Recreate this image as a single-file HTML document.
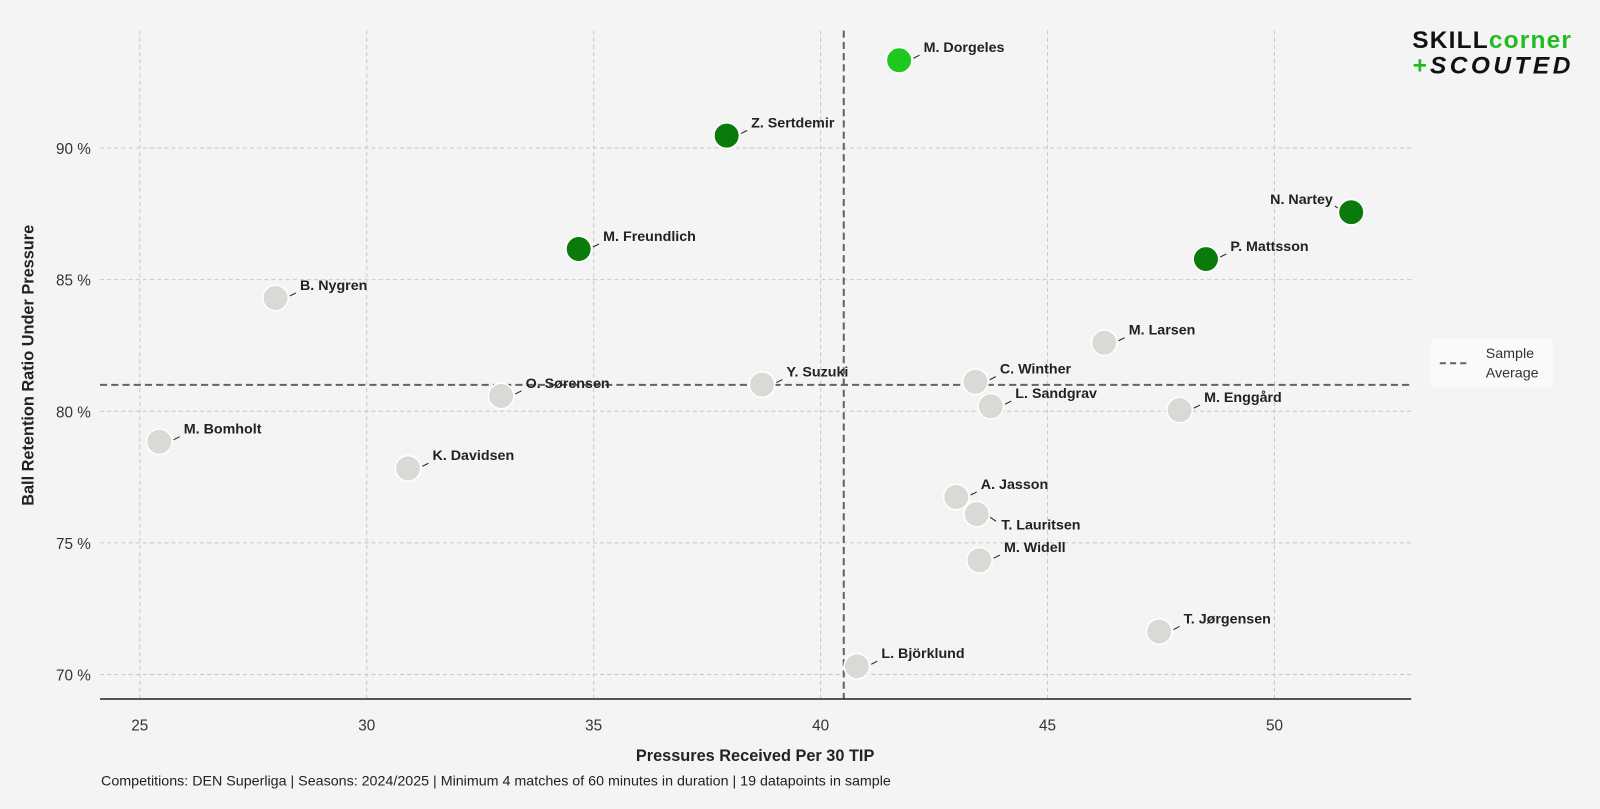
<!DOCTYPE html>
<html><head><meta charset="utf-8"><style>
body{margin:0;background:#f4f4f4;font-family:"Liberation Sans",sans-serif}
svg{display:block}
</style></head><body>
<svg width="1600" height="809" viewBox="0 0 1600 809">
<rect width="1600" height="809" fill="#f4f4f4"/>
<g transform="scale(1.0204)">
<g id="grid"></g>
<g id="avg"></g>
<g id="pts"></g>
<g id="axes"></g>
<text x="740" y="746" text-anchor="middle" font-size="16" font-weight="bold" fill="#222">Pressures Received Per 30 TIP</text>
<text transform="translate(33,358) rotate(-90)" text-anchor="middle" font-size="16" font-weight="bold" fill="#222">Ball Retention Ratio Under Pressure</text>
<text x="99" y="770" font-size="14" fill="#222">Competitions: DEN Superliga | Seasons: 2024/2025 | Minimum 4 matches of 60 minutes in duration | 19 datapoints in sample</text>
<g>
<rect x="1402" y="332" width="120" height="48" fill="#fafafa" rx="3"/>
<line x1="1411" y1="356" x2="1440" y2="356" stroke="#5a6a5a" stroke-width="2" stroke-dasharray="6,4"/>
<text x="1456" y="351" font-size="14" fill="#333">Sample</text>
<text x="1456" y="370" font-size="14" fill="#333">Average</text>
</g>
<g>
<text x="1384" y="47" font-size="24" font-weight="900" fill="#111" letter-spacing="-1.5" textLength="154">SKILL<tspan fill="#22bb22">corner</tspan></text>
<text x="1384" y="72" font-size="24" font-weight="900" font-style="italic" fill="#111" letter-spacing="-1" textLength="154"><tspan fill="#22bb22">+</tspan>SCOUTED</text>
</g>
</g>
</svg>
<script>
const names=["M. Dorgeles","Z. Sertdemir","M. Freundlich","N. Nartey","P. Mattsson","B. Nygren","M. Larsen","C. Winther","Y. Suzuki","O. Sørensen","L. Sandgrav","M. Enggård","M. Bomholt","K. Davidsen","A. Jasson","T. Lauritsen","M. Widell","T. Jørgensen","L. Björklund"];
const pressures=[41.73,37.93,34.67,51.69,48.49,27.99,46.25,43.41,38.71,32.96,43.75,47.91,25.43,30.91,42.99,43.44,43.50,47.46,40.80];
const retention=[93.33,90.47,86.16,87.56,85.78,84.30,82.60,81.12,81.01,80.58,80.19,80.04,78.84,77.83,76.74,76.09,74.34,71.63,70.31];
const groups=["top","high","high","high","high","base","base","base","base","base","base","base","base","base","base","base","base","base","base"];
const xTicks=[25,30,35,40,45,50];
const yTicks=[70,75,80,85,90];
const avgX=40.51, avgY=81.0;
const X=v=>137+(v-25)*44.48;
const Y=v=>145+(90-v)*25.8;
const NS="http://www.w3.org/2000/svg";
function mk(t,a,p){const e=document.createElementNS(NS,t);for(const k in a)e.setAttribute(k,a[k]);p.appendChild(e);return e;}
const grid=document.getElementById('grid'),axes=document.getElementById('axes'),pts=document.getElementById('pts'),avg=document.getElementById('avg');
xTicks.forEach(t=>{
 const l=mk('line',{x1:X(t),x2:X(t),y1:30,y2:685,stroke:'#c8c8c8','stroke-dasharray':'4,3'},grid);
 
 
 const tx=mk('text',{x:X(t),y:716,'text-anchor':'middle','font-size':15,fill:'#333'},axes);tx.textContent=t;
 
 
});
yTicks.forEach(t=>{
 const l=mk('line',{x1:98,x2:1383,y1:Y(t),y2:Y(t),stroke:'#c8c8c8','stroke-dasharray':'4,3'},grid);
 
 
 const tx=mk('text',{x:89,y:Y(t)+6,'text-anchor':'end','font-size':15,fill:'#333'},axes);tx.textContent=t+' %';
 
 
});
const ax=mk('line',{x1:98,x2:1383,y1:685,y2:685,stroke:'#222','stroke-width':1.5},axes);


const vl=mk('line',{x1:X(avgX),x2:X(avgX),y1:30,y2:685,stroke:'#5a6a5a','stroke-width':2,'stroke-dasharray':'7,4'},avg);


const hl=mk('line',{x1:98,x2:1383,y1:Y(avgY),y2:Y(avgY),stroke:'#5a6a5a','stroke-width':2,'stroke-dasharray':'7,4'},avg);


const col={top:'#1ec81e',high:'#0a7a0a',base:'#d9d9d6'};
names.forEach((n,i)=>{
 const cx=X(pressures[i]),cy=Y(retention[i]);
 const c=mk('circle',{cx,cy,r:12.5,fill:col[groups[i]],stroke:'#fff','stroke-width':1.5},pts);
 
 
 let dx=24,dy=-8,anchor='start',lx1=cx+14,ly1=cy-2,lx2=cx+20,ly2=cy-5;
 if(n==='N. Nartey'){dx=-18;dy=-8;anchor='end';lx1=cx-13;lx2=cx-16;ly1=cy-4;ly2=cy-6;}
 if(n==='T. Lauritsen'){dx=24;dy=15;lx1=cx+13;ly1=cy+3;lx2=cx+19;ly2=cy+7;}
 mk('line',{x1:lx1,y1:ly1,x2:lx2,y2:ly2,stroke:'#222','stroke-width':1},pts);
 const t=mk('text',{x:cx+dx,y:cy+dy,'text-anchor':anchor,'font-size':14,'font-weight':'bold',fill:'#222'},pts);
 t.textContent=n;
 
 
});
</script>
</body></html>
